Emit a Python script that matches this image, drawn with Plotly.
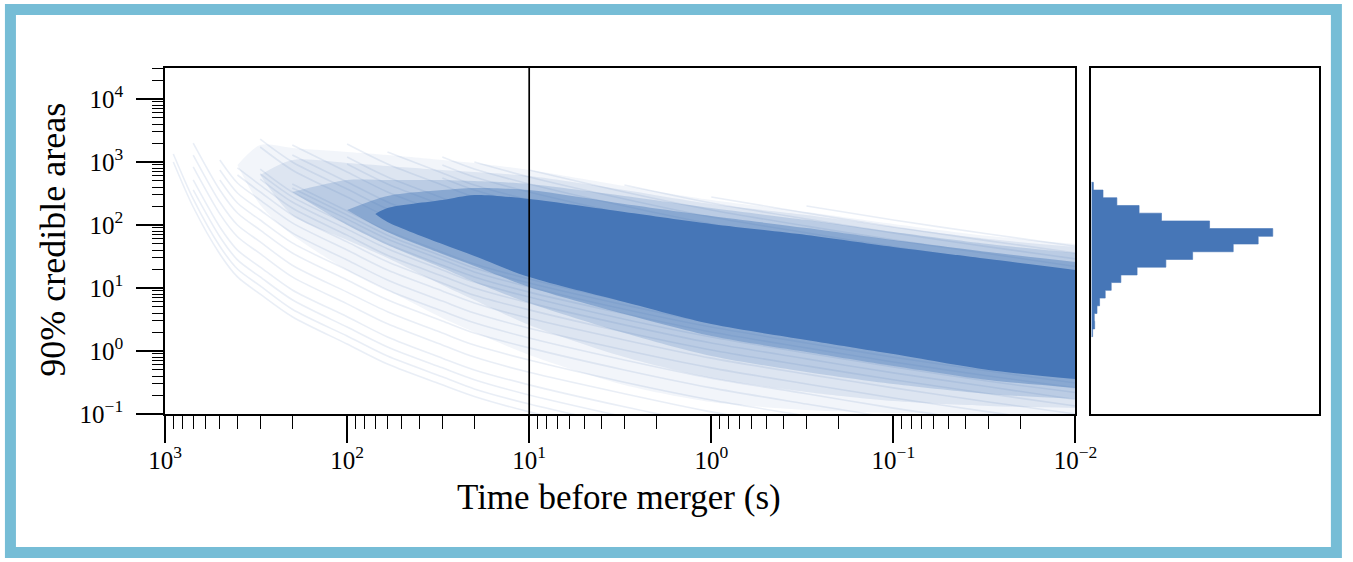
import plotly.graph_objects as go

N = None

# ---------------- data ----------------
# time grid (s before merger) for the individual localisation tracks
TIME_GRID = [900, 700, 500, 400, 300, 200, 100, 60, 30, 20, 10, 3, 1, 0.3, 0.1, 0.03, 0.01]

# early-starting (loud) tracks: 90% credible area at TIME_GRID
TRACKS_LOW = [
    [1000, 193, 34.7, 15.0, 8.0, 3.5, 1.29, 0.62, 0.29, 0.19, 0.108, 0.048, N, N, N, N, N],
    [1340, 259, 46, 20, 10.8, 4.6, 1.73, 0.83, 0.39, 0.25, 0.144, 0.065, N, N, N, N, N],
    [N, 360, 65, 28, 15, 6.5, 2.4, 1.16, 0.54, 0.35, 0.20, 0.09, 0.046, N, N, N, N],
    [N, 518, 93, 40, 21.5, 9.3, 3.5, 1.67, 0.77, 0.50, 0.29, 0.13, 0.067, N, N, N, N],
    [N, 834, 150, 65, 35, 15, 5.6, 2.7, 1.25, 0.80, 0.46, 0.21, 0.108, 0.06, N, N, N],
    [N, 1290, 232, 100, 54, 23, 8.6, 4.2, 1.93, 1.24, 0.72, 0.32, 0.167, 0.093, 0.056, N, N],
    [N, 2000, 360, 155, 83, 36, 13.4, 6.5, 3.0, 1.93, 1.12, 0.50, 0.26, 0.144, 0.086, N, N],
    [N, N, 518, 223, 120, 52, 19.3, 9.3, 4.3, 2.8, 1.61, 0.72, 0.37, 0.21, 0.124, 0.075, N],
    [N, N, 746, 322, 173, 75, 27.8, 13.4, 6.2, 4.0, 2.3, 1.04, 0.54, 0.30, 0.18, 0.108, 0.069],
    [N, N, 1076, 464, 249, 108, 40, 19.3, 9.0, 5.8, 3.3, 1.5, 0.77, 0.43, 0.26, 0.155, 0.10],
    [N, N, N, 622, 334, 144, 54, 26, 12, 7.7, 4.5, 2.0, 1.04, 0.58, 0.35, 0.21, 0.134],
    [N, N, N, 804, 431, 186, 69, 33, 15.5, 10, 5.8, 2.6, 1.34, 0.75, 0.45, 0.27, 0.17],
    [N, N, N, N, 537, 232, 86, 42, 19.3, 12.4, 7.2, 3.2, 1.67, 0.93, 0.56, 0.33, 0.22],
    [N, N, N, N, 646, 279, 104, 50, 23, 15, 8.6, 3.9, 2.0, 1.12, 0.67, 0.40, 0.26],
    [N, N, N, N, 774, 334, 124, 60, 28, 18, 10.4, 4.6, 2.4, 1.34, 0.80, 0.48, 0.31],
    [N, N, N, N, N, 386, 144, 69, 32, 20.7, 12, 5.4, 2.8, 1.55, 0.93, 0.56, 0.36],
    [N, N, N, N, N, 448, 167, 80, 37, 24, 13.9, 6.2, 3.2, 1.8, 1.08, 0.65, 0.42],
]

# late-starting (quiet) tracks
TRACKS_HIGH = [
    [N, N, N, N, N, N, N, N, N, N, N, N, N, 200, 120, 72, 46],
    [N, N, N, N, N, N, N, N, N, N, N, N, 278, 155, 93, 56, 36],
    [N, N, N, N, N, N, N, N, N, N, N, 431, 223, 124, 75, 45, 29],
    [N, N, N, N, N, N, N, N, N, N, 746, 334, 173, 96, 58, 35, 22],
    [N, N, N, N, N, N, N, N, N, 1000, 578, 259, 134, 75, 45, 27, 17.3],
    [N, N, N, N, N, N, N, N, 1200, 774, 448, 200, 104, 58, 35, 21, 13.4],
    [N, N, N, N, N, N, N, N, 897, 578, 334, 150, 77, 43, 26, 15.5, 10],
    [N, N, N, N, N, N, N, 1440, 670, 431, 249, 112, 58, 32, 19.3, 11.6, 7.5],
    [N, N, N, N, N, N, 1930, 929, 431, 278, 161, 72, 37, 20.7, 12.4, 7.5, 4.8],
    [N, N, N, N, N, N, 1200, 578, 269, 173, 100, 45, 23, 12.9, 7.7, 4.6, 3.0],
    [N, N, N, N, N, 1860, 693, 334, 155, 100, 58, 26, 13.4, 7.5, 4.5, 2.7, 1.73],
    [N, N, N, N, 2300, 1000, 372, 179, 83, 54, 31, 13.9, 7.2, 4.0, 2.4, 1.44, 0.93],
    [N, N, N, N, 1730, 746, 278, 134, 62, 40, 23, 10.4, 5.4, 3.0, 1.8, 1.08, 0.69],
    [N, N, N, N, N, 1290, 481, 232, 108, 69, 40, 17.9, 9.3, 5.2, 3.1, 1.86, 1.2],
    [N, N, N, N, N, N, 929, 448, 208, 134, 77, 35, 17.9, 10, 6.0, 3.6, 2.3],
    [N, N, N, N, N, N, N, N, 557, 359, 208, 93, 48, 26.8, 16.1, 9.6, 6.2],
]

# envelopes of the overlapping bulk of tracks (outermost haze -> solid core)
B1_T = [400, 300, 200, 100, 60, 30, 20, 10, 3, 1, 0.3, 0.1, 0.03, 0.01]
B1_HI = [896, 1861, 1668, 1441, 1291, 1076, 964, 746, 416, 249, 161, 104, 66.9, 49.9]
B1_LO = [896, 208, 69.4, 19.3, 9.3, 3.34, 2.0, 0.864, 0.289, 0.155, 0.116, 0.104, 0.10, 0.10]

B2_T = [300, 200, 100, 60, 30, 20, 10, 3, 1, 0.3, 0.1, 0.03, 0.01]
B2_HI = [622, 1076, 964, 864, 746, 694, 600, 359, 215, 144, 93, 60, 44.8]
B2_LO = [622, 144, 57.8, 29.9, 11.2, 6.45, 2.59, 0.803, 0.373, 0.224, 0.161, 0.134, 0.125]

B3_T = [200, 100, 60, 30, 20, 10, 3, 1, 0.3, 0.1, 0.03, 0.01]
B3_HI = [334, 518, 518, 518, 499, 448, 289, 186, 120, 77.4, 49.9, 35.9]
B3_LO = [334, 100, 48.1, 20.8, 12.5, 5.78, 1.93, 0.833, 0.464, 0.299, 0.208, 0.173]

B4_T = [100, 60, 30, 20, 10, 3, 1, 0.3, 0.1, 0.03, 0.01]
B4_HI = [173, 289, 359, 387, 359, 215, 139, 89.6, 57.8, 37.3, 25.9]
B4_LO = [173, 77.4, 34.7, 22.4, 10.4, 3.87, 1.73, 0.964, 0.578, 0.346, 0.259]

CORE_T = [70, 60, 30, 20, 10, 3, 1, 0.3, 0.1, 0.03, 0.01]
CORE_HI = [150, 186, 249, 299, 259, 161, 104, 69.4, 44.8, 28.9, 19.3]
CORE_LO = [150, 112, 49.9, 32.2, 14.9, 6.0, 2.68, 1.50, 0.896, 0.50, 0.359]

# histogram of areas at the marked time (10 s before merger)
REF_TIME = 10
HIST_EDGES = [1.69, 2.24, 2.97, 3.94, 5.22, 6.92, 9.18, 12.2, 16.1, 21.4, 28.4,
              37.6, 49.9, 66.1, 87.7, 116, 154, 204, 271, 359, 476]
HIST_COUNTS = [7, 18, 16, 31, 45, 76, 109, 162, 251, 409, 556, 779, 916, 996,
               649, 385, 262, 140, 64, 11]

X_TICKS = [1000, 100, 10, 1, 0.1, 0.01]
X_TICKTEXT = ["10<sup>3</sup>", "10<sup>2</sup>", "10<sup>1</sup>", "10<sup>0</sup>",
              "10<sup>\u22121</sup>", "10<sup>\u22122</sup>"]
Y_TICKS = [0.1, 1, 10, 100, 1000, 10000]
Y_TICKTEXT = ["10<sup>\u22121</sup>", "10<sup>0</sup>", "10<sup>1</sup>", "10<sup>2</sup>",
              "10<sup>3</sup>", "10<sup>4</sup>"]

# ---------------- figure ----------------
RGB = "70,118,183"
BLUE = f"rgb({RGB})"


def rgba(a):
    return f"rgba({RGB},{a})"


fig = go.Figure()


def band(t, hi, lo, alpha):
    edge = dict(width=0, color=rgba(0), shape="spline", smoothing=0.8)
    fig.add_trace(go.Scatter(x=t, y=lo, mode="lines", line=edge,
                             hoverinfo="skip", xaxis="x", yaxis="y"))
    fig.add_trace(go.Scatter(x=t, y=hi, mode="lines", line=edge,
                             fill="tonexty", fillcolor=rgba(alpha),
                             hoverinfo="skip", xaxis="x", yaxis="y"))


band(B1_T, B1_HI, B1_LO, 0.07)
band(B2_T, B2_HI, B2_LO, 0.12)

for tr in TRACKS_LOW + TRACKS_HIGH:
    fig.add_trace(go.Scatter(
        x=TIME_GRID, y=tr, mode="lines",
        line=dict(color=rgba(0.12), width=1.6, shape="spline", smoothing=0.8),
        connectgaps=False, hoverinfo="skip", xaxis="x", yaxis="y"))

band(B3_T, B3_HI, B3_LO, 0.22)
band(B4_T, B4_HI, B4_LO, 0.42)
band(CORE_T, CORE_HI, CORE_LO, 1.0)

# step histogram (horizontal)
hx = [0] + HIST_COUNTS + [0]
hy = [HIST_EDGES[0]] + HIST_EDGES[:-1] + [HIST_EDGES[-1]]
fig.add_trace(go.Scatter(
    x=hx, y=hy, mode="lines", line_shape="vh", fill="toself",
    fillcolor=BLUE, line=dict(color=BLUE, width=0.6),
    hoverinfo="skip", xaxis="x2", yaxis="y2"))

fig.add_shape(type="line", xref="x", yref="y domain", x0=REF_TIME, x1=REF_TIME,
              y0=0, y1=1, line=dict(color="black", width=1.7))

# minor tick positions (2..9 per decade)
x_minor = [m * 10.0 ** e for e in range(-2, 3) for m in range(2, 10)]
y_minor = [m * 10.0 ** e for e in range(-1, 5) for m in range(2, 10)]

FONT = "Liberation Serif"
tickfont = dict(family=FONT, size=25, color="black")

L, R, T, B = 165, 27, 68, 148
W, H = 1353, 562
PW = W - L - R
PH = H - T - B


def px2paper_x(px):
    return (px - L) / PW


def px2paper_y(py):
    return (H - B - py) / PH


axis_common = dict(showline=True, linecolor="black", linewidth=1.6, mirror=True,
                   showgrid=False, zeroline=False)

fig.update_layout(
    autosize=True,
    margin=dict(l=L, r=R, t=T, b=B, pad=0),
    paper_bgcolor="white", plot_bgcolor="white",
    showlegend=False,
    xaxis=dict(
        domain=[0, px2paper_x(1081)], type="log", range=[3, -2], anchor="y",
        tickmode="array", tickvals=X_TICKS, ticktext=X_TICKTEXT,
        ticks="outside", ticklen=27, tickwidth=1.5, tickcolor="black",
        tickfont=tickfont, ticklabelstandoff=-4,
        minor=dict(tickmode="array", tickvals=x_minor, ticks="outside",
                   ticklen=13, tickwidth=1.3, tickcolor="black", showgrid=False),
        **axis_common),
    yaxis=dict(
        domain=[0, 1], type="log", range=[-1, 4.492], anchor="x",
        tickmode="array", tickvals=Y_TICKS, ticktext=Y_TICKTEXT,
        ticks="outside", ticklen=27, tickwidth=1.5, tickcolor="black",
        tickfont=tickfont, ticklabelstandoff=8,
        minor=dict(tickmode="array", tickvals=y_minor, ticks="outside",
                   ticklen=11, tickwidth=1.3, tickcolor="black", showgrid=False),
        **axis_common),
    xaxis2=dict(domain=[px2paper_x(1097), 1], range=[0, 1250], anchor="y2",
                showticklabels=False, ticks="", **axis_common),
    yaxis2=dict(domain=[0, 1], type="log", range=[-1, 4.492], anchor="x2",
                matches="y", showticklabels=False, ticks="", **axis_common),
    annotations=[
        dict(text="Time before merger (s)", xref="paper", yref="paper",
             x=px2paper_x(622), y=px2paper_y(497), xanchor="center", yanchor="middle",
             showarrow=False, font=dict(family=FONT, size=35, color="black")),
        dict(text="90% credible areas", xref="paper", yref="paper",
             x=px2paper_x(52), y=px2paper_y(240), xanchor="center", yanchor="middle",
             textangle=-90, showarrow=False,
             font=dict(family=FONT, size=36, color="black")),
    ],
)

# light-blue frame around the whole figure
fig.add_shape(type="rect", xref="paper", yref="paper",
              x0=px2paper_x(9.5), x1=px2paper_x(1343.5),
              y0=px2paper_y(552.5), y1=px2paper_y(9.5),
              line=dict(color="#76bdd6", width=11), fillcolor="rgba(0,0,0,0)")

PAGE_FIX = ("document.documentElement.style.margin='0';"
            "document.body.style.margin='0';"
            "document.documentElement.style.overflow='hidden';"
            "document.body.style.overflow='hidden';"
            "var d=document.getElementById('{plot_id}');"
            "d.style.position='fixed';d.style.left='0px';d.style.top='0px';")

fig.write_html("out.html", config={"displayModeBar": False, "responsive": True},
               default_width="100vw", default_height="100vh",
               post_script=PAGE_FIX)
